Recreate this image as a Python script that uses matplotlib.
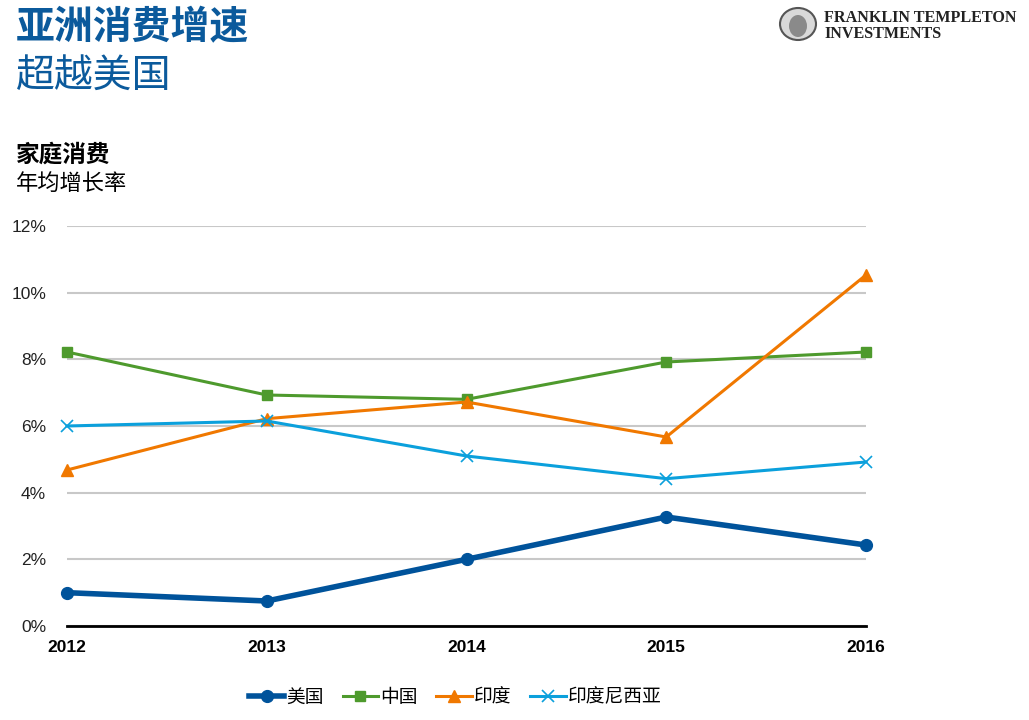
import matplotlib
matplotlib.use("Agg")
import matplotlib.pyplot as plt
from matplotlib.patches import Ellipse
from matplotlib.ticker import FuncFormatter

plt.rcParams["font.family"] = ["Noto Sans CJK SC", "DejaVu Sans"]

# 数据 (年均增长率, %)
years = [2012, 2013, 2014, 2015, 2016]
usa = [1.0, 0.75, 2.0, 3.27, 2.43]
china = [8.22, 6.93, 6.8, 7.92, 8.22]
india = [4.68, 6.22, 6.72, 5.67, 10.53]
indonesia = [6.0, 6.15, 5.1, 4.42, 4.92]
series_names = ["美国", "中国", "印度", "印度尼西亚"]

blue_title = "#0B5A9C"
c_usa = "#00539B"
c_china = "#4E9A2D"
c_india = "#F07800"
c_indo = "#0BA0DC"

num_font = ["Liberation Sans", "DejaVu Sans"]

fig = plt.figure(figsize=(10.29, 7.2), dpi=100)
ax = fig.add_axes([67 / 1029, 94 / 720, 799 / 1029, 400 / 720])

ax.plot(years, china, color=c_china, lw=2.2, marker="s", ms=7.5, label=series_names[1], zorder=3)
ax.plot(years, india, color=c_india, lw=2.2, marker="^", ms=8, label=series_names[2], zorder=3)
ax.plot(years, indonesia, color=c_indo, lw=2.2, marker="x", ms=8, mew=1.2, label=series_names[3], zorder=3)
ax.plot(years, usa, color=c_usa, lw=4, marker="o", ms=8.5, label=series_names[0], zorder=4)

ax.set_xlim(2012, 2016)
ax.set_ylim(0, 12)
ax.set_yticks(range(0, 13, 2))
ax.set_xticks(years)
ax.yaxis.set_major_formatter(FuncFormatter(lambda v, p: f"{v:.0f}%"))
ax.grid(axis="y", color="#c8c8c8", lw=1.5)
ax.set_axisbelow(True)
for s in ["top", "right", "left"]:
    ax.spines[s].set_visible(False)
ax.spines["bottom"].set_color("black")
ax.spines["bottom"].set_linewidth(2)
ax.spines["bottom"].set_zorder(5)
ax.tick_params(axis="y", length=0, pad=15, labelsize=12.5, labelcolor="#222222")
ax.tick_params(axis="x", length=0, pad=10, labelsize=12.5)
for t in ax.get_yticklabels():
    t.set_fontfamily(num_font)
for t in ax.get_xticklabels():
    t.set_fontfamily(num_font)
    t.set_fontweight("bold")
for line in ax.lines:
    line.set_clip_on(False)

handles, labels = ax.get_legend_handles_labels()
order = [3, 0, 1, 2]
leg = fig.legend([handles[i] for i in order], [labels[i] for i in order],
                 loc="center", bbox_to_anchor=(455 / 1029, 1 - 697 / 720),
                 ncol=4, frameon=False, fontsize=13.5, handlelength=1.9,
                 handletextpad=0.1, columnspacing=1.0)

# 标题
fig.text(16 / 1029, 1 - 28 / 720, "亚洲消费增速", fontsize=28, fontweight="bold",
         color=blue_title, va="center", ha="left")
fig.text(16 / 1029, 1 - 76 / 720, "超越美国", fontsize=28, color=blue_title,
         va="center", ha="left")
fig.text(16 / 1029, 1 - 155 / 720, "家庭消费", fontsize=17, fontweight="bold",
         color="black", va="center", ha="left")
fig.text(16 / 1029, 1 - 183 / 720, "年均增长率", fontsize=16, color="black",
         va="center", ha="left")

# 标志
logo_ax = fig.add_axes([0, 0, 1, 1], facecolor="none")
logo_ax.set_xlim(0, 1029)
logo_ax.set_ylim(720, 0)
logo_ax.axis("off")
logo_ax.add_patch(Ellipse((798, 24), 36, 32, facecolor="#d9d9d9", edgecolor="#555555", lw=1.5))
logo_ax.add_patch(Ellipse((798, 26), 18, 22, facecolor="#8a8a8a", edgecolor="none"))
logo_ax.text(824, 18, "FRANKLIN TEMPLETON", fontsize=11.6, fontweight="bold",
             family=["Liberation Serif", "DejaVu Serif"], color="#222222", va="center", ha="left")
logo_ax.text(824, 34, "INVESTMENTS", fontsize=11.6, fontweight="bold",
             family=["Liberation Serif", "DejaVu Serif"], color="#222222", va="center", ha="left")

fig.savefig("out.png", dpi=100)
